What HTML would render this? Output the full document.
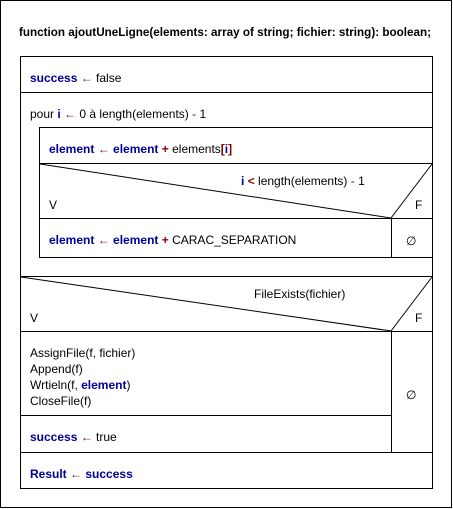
<!DOCTYPE html>
<html><head><style>
html,body{margin:0;padding:0;background:#fff;}
svg{display:block;}
text{font-family:"Liberation Sans",Arial,sans-serif;font-size:12px;fill:#000;}
.b{fill:#000099;font-weight:bold;}
.r{fill:#8b0000;}
.rb{fill:#8b0000;font-weight:bold;}
</style></head><body>
<svg width="453" height="509" xmlns="http://www.w3.org/2000/svg">
<rect x="0.5" y="0.5" width="451" height="507" fill="#fff" stroke="#000"/>
<text x="19" y="36" style="font-weight:bold" textLength="412" lengthAdjust="spacingAndGlyphs">function ajoutUneLigne(elements: array of string; fichier: string): boolean;</text>
<g stroke="#000" fill="none" stroke-width="1">
<rect x="20.5" y="56.5" width="412" height="432"/>
<line x1="20" y1="92.5" x2="432" y2="92.5"/>
<rect x="39.5" y="127.5" width="393" height="130"/>
<line x1="39" y1="163.5" x2="432" y2="163.5"/>
<line x1="39" y1="218.5" x2="432" y2="218.5"/>
<line x1="40" y1="164" x2="391" y2="218"/>
<line x1="391" y1="218" x2="432" y2="164"/>
<line x1="391.5" y1="218" x2="391.5" y2="257"/>
<line x1="20" y1="276.5" x2="432" y2="276.5"/>
<line x1="20" y1="331.5" x2="432" y2="331.5"/>
<line x1="21" y1="277" x2="391" y2="331"/>
<line x1="391" y1="331" x2="432" y2="277"/>
<line x1="391.5" y1="331" x2="391.5" y2="452"/>
<line x1="20" y1="415.5" x2="391" y2="415.5"/>
<line x1="20" y1="452.5" x2="432" y2="452.5"/>
</g>
<text x="30" y="82"><tspan class="b">success</tspan> <tspan class="r">←</tspan> false</text>
<text x="30" y="118">pour <tspan class="b">i</tspan> <tspan class="r">←</tspan> 0 à length(elements) <tspan class="r">-</tspan> 1</text>
<text x="49" y="153"><tspan class="b">element</tspan> <tspan class="r">←</tspan> <tspan class="b">element</tspan> <tspan class="rb">+</tspan> elements<tspan class="rb">[</tspan><tspan class="b">i</tspan><tspan class="rb">]</tspan></text>
<text x="241" y="185"><tspan class="b">i</tspan> <tspan class="rb">&lt;</tspan> length(elements) <tspan class="r">-</tspan> 1</text>
<text x="49" y="209">V</text>
<text x="415" y="209">F</text>
<text x="49" y="244"><tspan class="b">element</tspan> <tspan class="r">←</tspan> <tspan class="b">element</tspan> <tspan class="rb">+</tspan> CARAC_SEPARATION</text>
<text x="406" y="245">∅</text>
<text x="254" y="298">FileExists(fichier)</text>
<text x="30" y="322">V</text>
<text x="415" y="322">F</text>
<text x="30" y="357">AssignFile(f, fichier)</text>
<text x="30" y="373">Append(f)</text>
<text x="30" y="389">Wrtieln(f, <tspan class="b">element</tspan>)</text>
<text x="30" y="405">CloseFile(f)</text>
<text x="406" y="399">∅</text>
<text x="30" y="441"><tspan class="b">success</tspan> <tspan class="r">←</tspan> true</text>
<text x="30" y="478"><tspan class="b">Result</tspan> <tspan class="r">←</tspan> <tspan class="b">success</tspan></text>
</svg>
</body></html>
